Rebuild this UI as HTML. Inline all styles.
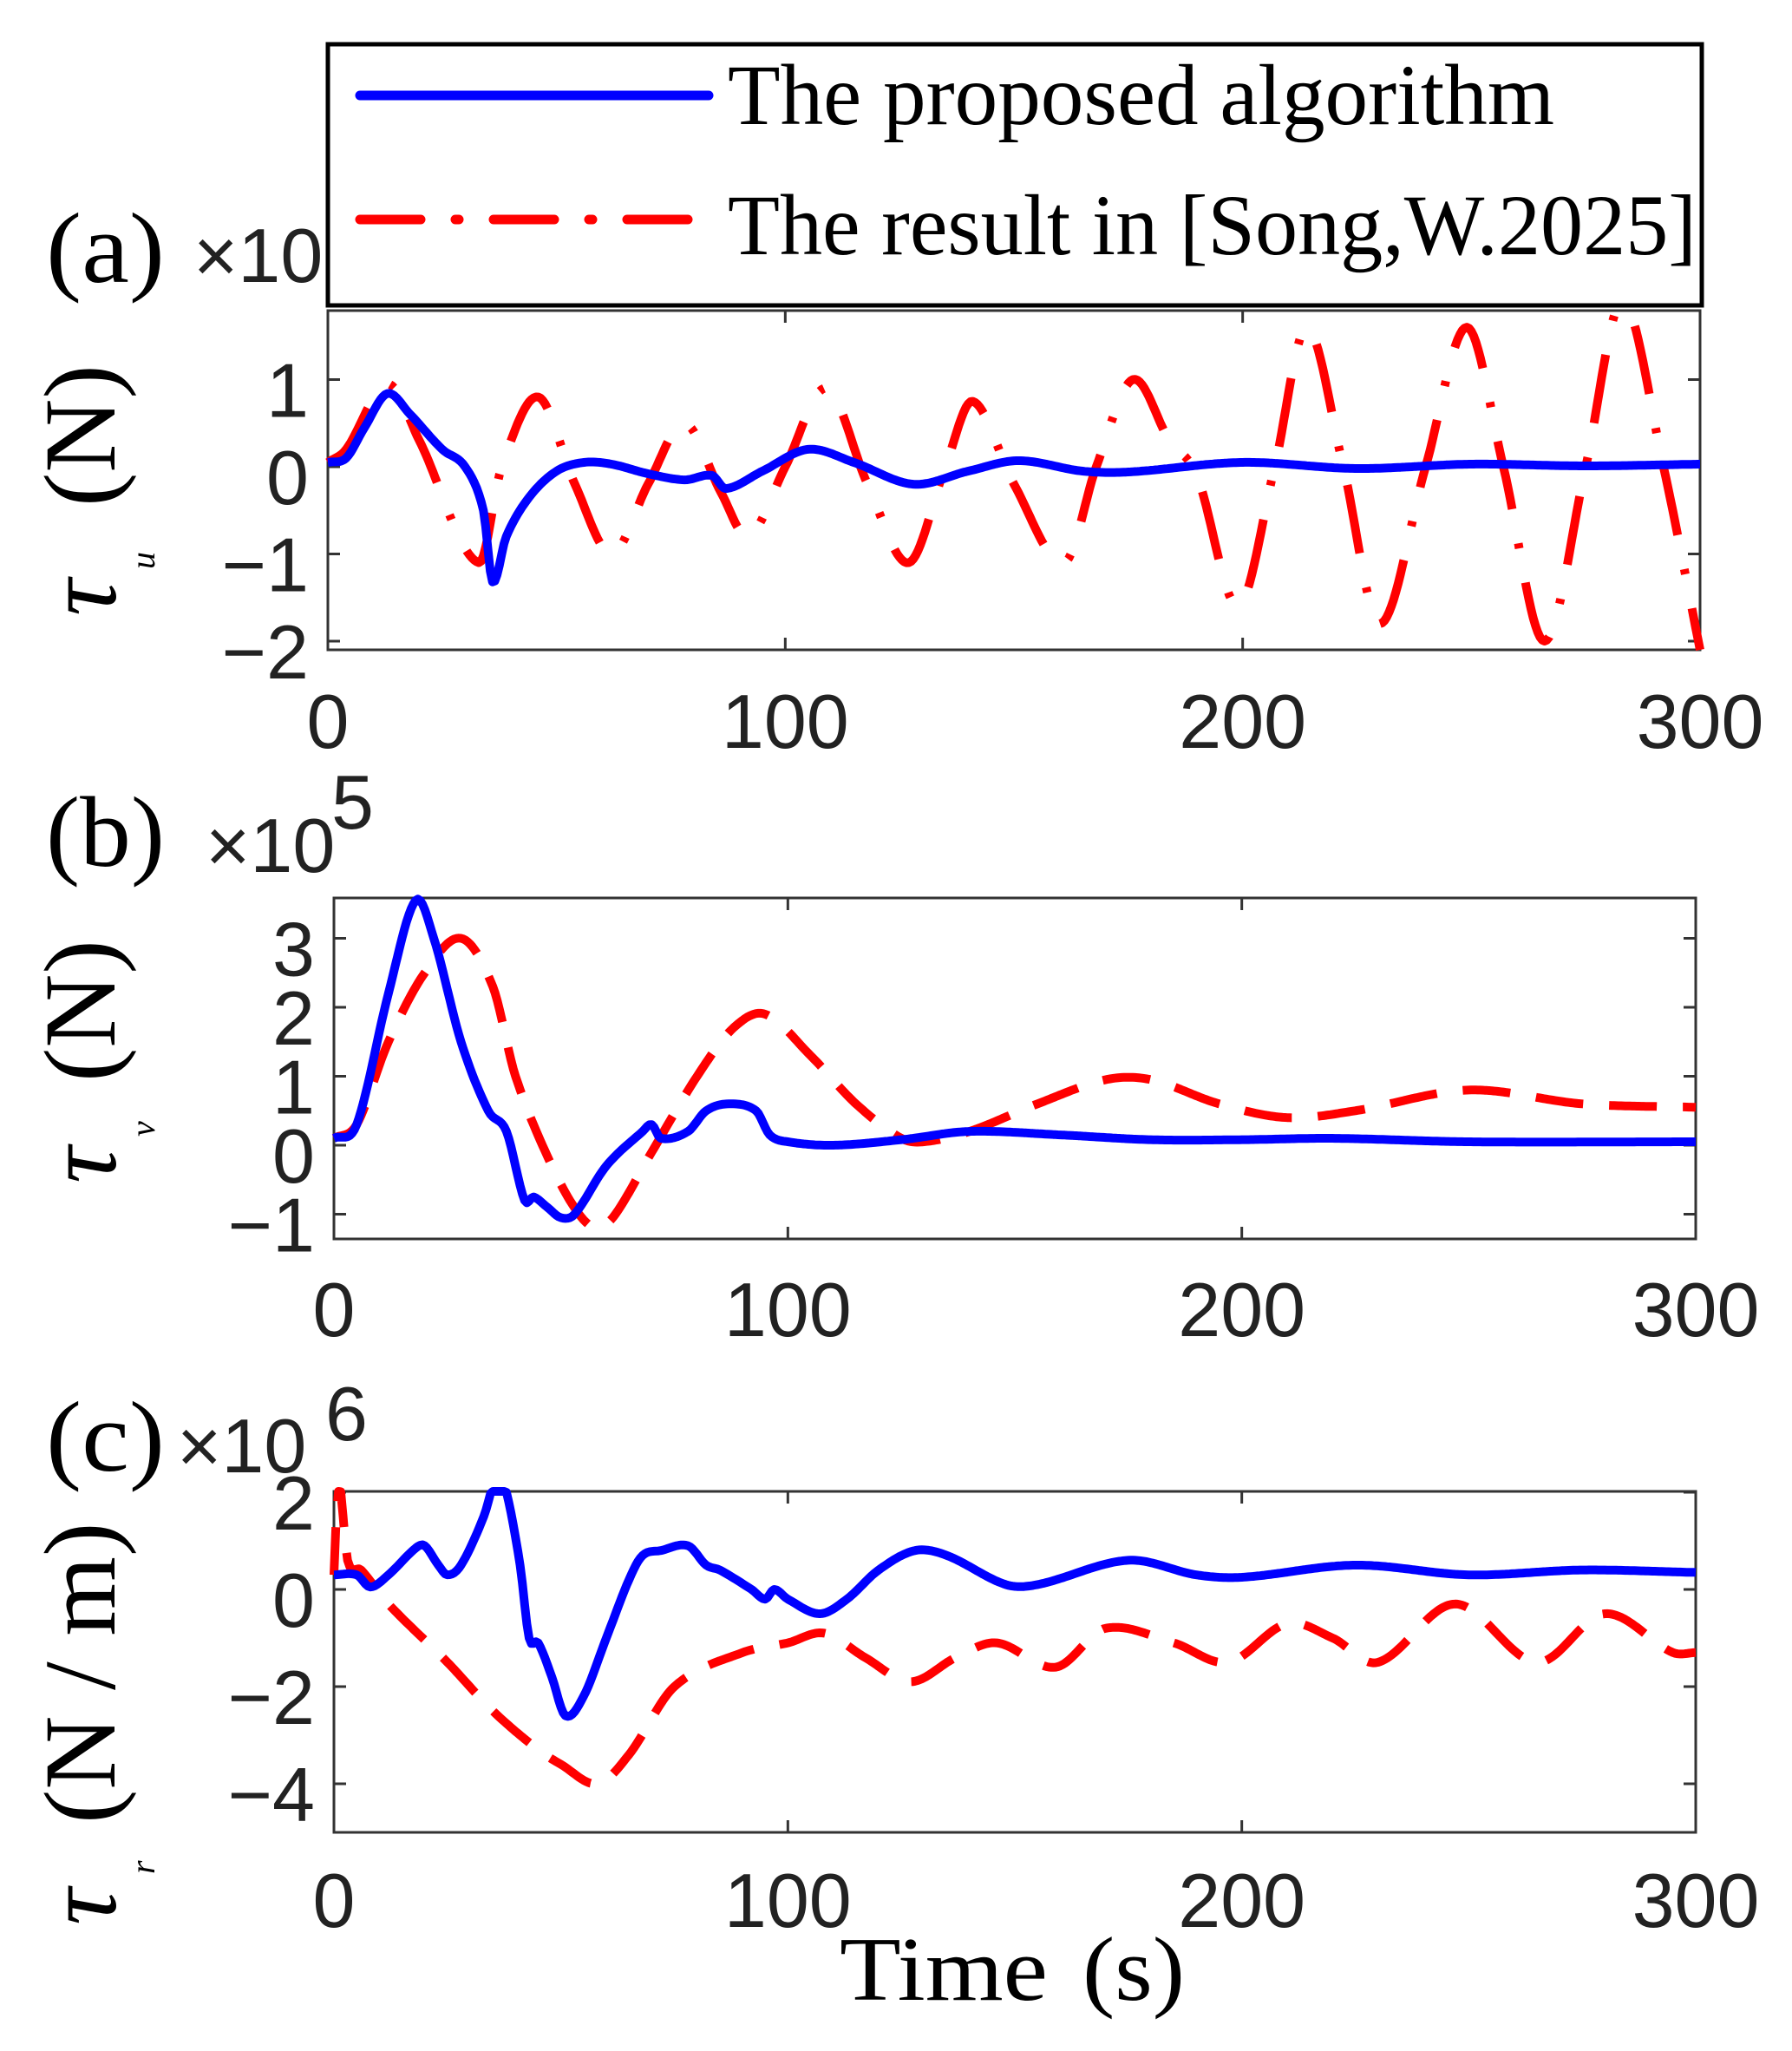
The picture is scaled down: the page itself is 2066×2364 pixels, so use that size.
<!DOCTYPE html>
<html><head><meta charset="utf-8"><style>
html,body{margin:0;padding:0;background:#fff}
svg{display:block}
.t{font-family:"Liberation Sans",sans-serif;font-size:88px;fill:#222}
.s{font-family:"Liberation Serif",serif;fill:#000}
</style></head><body>
<svg id="sv" width="2066" height="2364" xmlns="http://www.w3.org/2000/svg">
<rect x="378" y="51" width="1584" height="301" fill="#fff" stroke="#000" stroke-width="5"/>
<line x1="415" y1="110" x2="817" y2="110" stroke="#0000ff" stroke-width="11" stroke-linecap="round"/>
<line x1="415" y1="253" x2="817" y2="253" stroke="#ff0000" stroke-width="11" stroke-dasharray="70,40,4,40" stroke-linecap="round"/>
<text class="s" x="839" y="143" font-size="100" textLength="953" lengthAdjust="spacingAndGlyphs">The proposed algorithm</text>
<text class="s" x="839" y="293" font-size="100" textLength="1117" lengthAdjust="spacingAndGlyphs">The result in [Song,W.2025]</text>
<text class="s" x="53" y="325" font-size="115" textLength="137" lengthAdjust="spacingAndGlyphs">(a)</text>
<text class="t" x="223" y="325" font-size="88">×10</text>
<text class="s" x="53" y="998" font-size="115" textLength="137" lengthAdjust="spacingAndGlyphs">(b)</text>
<text class="t" x="237" y="1005" font-size="88">×10</text>
<text class="t" x="382" y="955" font-size="60">5</text>
<text class="s" x="53" y="1695" font-size="115" textLength="137" lengthAdjust="spacingAndGlyphs">(c)</text>
<text class="t" x="204" y="1697" font-size="88">×10</text>
<text class="t" x="375" y="1660" font-size="60">6</text>
<g class="s">
<text transform="translate(132,584) rotate(-90)" font-size="118">(N)</text>
<text transform="translate(133,710) rotate(-90)" font-size="118" font-style="italic">τ</text>
<text transform="translate(178,656) rotate(-90)" font-size="40" font-style="italic">u</text>
<text transform="translate(132,1247) rotate(-90)" font-size="118">(N)</text>
<text transform="translate(133,1364) rotate(-90)" font-size="118" font-style="italic">τ</text>
<text transform="translate(178,1310) rotate(-90)" font-size="40" font-style="italic">v</text>
<text transform="translate(132,2102) rotate(-90)" font-size="118">(N / m)</text>
<text transform="translate(133,2219) rotate(-90)" font-size="118" font-style="italic">τ</text>
<text transform="translate(178,2160) rotate(-90)" font-size="40" font-style="italic">r</text>
</g>
<text class="s" x="968" y="2305" font-size="105" textLength="240" lengthAdjust="spacingAndGlyphs">Time</text>
<text class="s" x="1248" y="2305" font-size="105" textLength="118" lengthAdjust="spacingAndGlyphs">(s)</text>
<g id="plots"></g>
</svg>
<script>
var NS="http://www.w3.org/2000/svg";
var g=document.getElementById('plots');
function el(n,a){var e=document.createElementNS(NS,n);for(var k in a)e.setAttribute(k,a[k]);g.appendChild(e);return e;}
function txt(x,y,s,anchor,size){var e=el('text',{x:x,y:y,'class':'t','text-anchor':anchor,'font-size':size||88});e.textContent=s;}
function interp(p,t){var n=p.length;for(var i=0;i<n-1;i++){if(t<=p[i+1][0]){
 var p0=p[Math.max(0,i-1)],p1=p[i],p2=p[i+1],p3=p[Math.min(n-1,i+2)];
 var h=p2[0]-p1[0],u=(t-p1[0])/h;
 var m1=(p2[1]-p0[1])/(p2[0]-p0[0]||1)*h, m2=(p3[1]-p1[1])/(p3[0]-p1[0]||1)*h;
 var u2=u*u,u3=u2*u;
 return (2*u3-3*u2+1)*p1[1]+(u3-2*u2+u)*m1+(-2*u3+3*u2)*p2[1]+(u3-u2)*m2;}}return p[n-1][1];}
function panel(P){
 var X=function(t){return P.l+(P.r-P.l)*t/300;};
 var Y=function(v){return P.y0-v*P.k;};
 el('rect',{x:P.l,y:P.t,width:P.r-P.l,height:P.b-P.t,fill:'none',stroke:'#333','stroke-width':3});
 [0,100,200,300].forEach(function(t){var x=X(t);
  el('line',{x1:x,y1:P.b,x2:x,y2:P.b-14,stroke:'#333','stroke-width':3});
  el('line',{x1:x,y1:P.t,x2:x,y2:P.t+14,stroke:'#333','stroke-width':3});
  txt(x,P.xl,String(t),'middle');});
 P.yt.forEach(function(v){var y=Y(v);
  el('line',{x1:P.l,y1:y,x2:P.l+14,y2:y,stroke:'#333','stroke-width':3});
  el('line',{x1:P.r,y1:y,x2:P.r-14,y2:y,stroke:'#333','stroke-width':3});
  txt(P.l-22,y+43,(v<0?'\u2212':'')+Math.abs(v),'end');});
 function path(pts,col,dash){var d='';for(var t=0;t<=300;t+=0.5){var v=interp(pts,t);var y=Math.max(P.t,Math.min(P.b,Y(v)));d+=(t?'L':'M')+X(t).toFixed(1)+','+y.toFixed(1);}
  var a={d:d,fill:'none',stroke:col,'stroke-width':10,'stroke-linejoin':'round'};if(dash)a['stroke-dasharray']=dash;el('path',a);}
 path(P.red,'#ff0000',P.dash);
 path(P.blue,'#0000ff');
}
panel({l:378,r:1960,t:358,b:749,y0:538,k:100.5,xl:862,yt:[1,0,-1,-2],dash:'80,40,6,40',
 blue:[[0,0.05],[4,0.1],[8,0.45],[13,0.84],[18,0.6],[25,0.2],[30,0.0],[34,-0.5],[36,-1.32],[39,-0.8],[44,-0.35],[50,-0.05],[56,0.05],[62,0.03],[70,-0.08],[78,-0.15],[84,-0.1],[87,-0.25],[95,-0.05],[105,0.2],[115,0.05],[128,-0.2],[140,-0.05],[151,0.07],[165,-0.05],[175,-0.06],[200,0.05],[225,-0.02],[250,0.03],[275,0.01],[300,0.03]],
 red:[[0,0.05],[4,0.2],[13,0.95],[20,0.3],[33,-1.1],[38,0.0],[46,0.8],[54,-0.2],[62,-1.0],[70,-0.2],[78,0.5],[86,-0.3],[92,-0.8],[100,0.0],[109,0.9],[118,-0.2],[127,-1.1],[135,0.0],[141,0.75],[150,-0.2],[161,-1.1],[168,0.0],[176,1.0],[184,0.3],[190,-0.1],[199,-1.6],[207,0.0],[214,1.6],[222,0.0],[230,-1.8],[240,0.0],[249,1.6],[257,0.0],[266,-2.0],[275,0.0],[283,1.9],[292,0.0],[300,-2.1]]});
panel({l:385,r:1955,t:1035,b:1428,y0:1320,k:79.5,xl:1540,yt:[3,2,1,0,-1],dash:'55,30',
 blue:[[0,0.1],[5,0.3],[12,2.2],[18,3.55],[22,3.0],[28,1.5],[34,0.5],[38,0.2],[42,-0.8],[44,-0.75],[47,-0.9],[50,-1.05],[53,-1.0],[60,-0.3],[68,0.2],[70,0.3],[72,0.1],[78,0.2],[82,0.5],[87,0.6],[93,0.5],[96,0.15],[100,0.05],[110,0.0],[125,0.08],[140,0.2],[160,0.15],[180,0.08],[200,0.08],[220,0.1],[250,0.05],[300,0.05]],
 red:[[0,0.1],[5,0.3],[12,1.5],[20,2.5],[28,3.0],[35,2.3],[40,1.0],[48,-0.3],[54,-1.0],[58,-1.2],[62,-1.0],[70,-0.1],[80,1.0],[88,1.7],[95,1.9],[105,1.3],[115,0.6],[125,0.1],[130,0.05],[140,0.2],[155,0.6],[170,0.95],[180,0.95],[195,0.6],[210,0.4],[225,0.5],[250,0.8],[275,0.6],[300,0.55]]});
panel({l:385,r:1955,t:1719,b:2112,y0:1832,k:56,xl:2221,yt:[2,0,-2,-4],dash:'55,30',
 blue:[[0,0.3],[5,0.3],[8,0.05],[12,0.3],[18,0.85],[20,0.9],[23,0.5],[25,0.3],[28,0.5],[33,1.5],[36,2.35],[38,2.0],[41,0.5],[43,-1.0],[45,-1.1],[48,-1.8],[51,-2.6],[55,-2.2],[60,-1.0],[65,0.2],[68,0.7],[72,0.8],[78,0.9],[82,0.5],[85,0.4],[92,0.0],[95,-0.2],[97,0.0],[100,-0.2],[107,-0.5],[113,-0.2],[120,0.4],[128,0.8],[135,0.7],[148,0.1],[155,0.1],[175,0.6],[190,0.3],[200,0.25],[225,0.5],[250,0.3],[275,0.4],[300,0.35]],
 red:[[0,0.3],[1,2.2],[3,0.6],[6,0.4],[12,-0.3],[25,-1.5],[35,-2.5],[45,-3.3],[50,-3.6],[58,-4.0],[65,-3.4],[75,-2.0],[90,-1.3],[100,-1.1],[108,-0.9],[117,-1.4],[127,-1.9],[137,-1.4],[146,-1.1],[159,-1.6],[170,-0.8],[185,-1.1],[197,-1.5],[210,-0.7],[220,-1.0],[230,-1.5],[247,-0.3],[265,-1.5],[280,-0.5],[295,-1.3],[300,-1.3]]});
</script>
</body></html>
